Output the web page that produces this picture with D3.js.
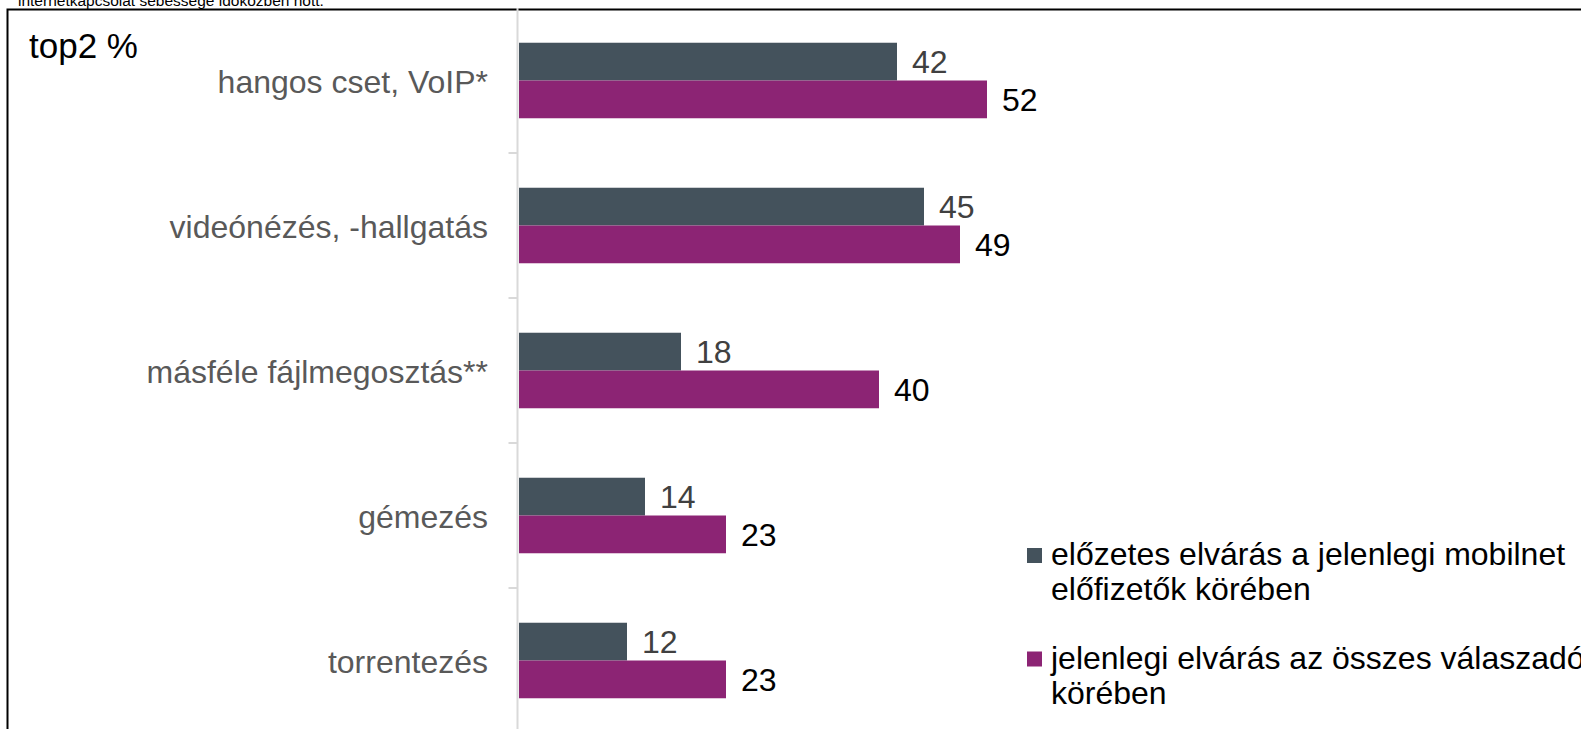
<!DOCTYPE html>
<html>
<head>
<meta charset="utf-8">
<script src="https://cdn.jsdelivr.net/npm/d3@7"></script>
<style>
  html, body { margin: 0; padding: 0; background: #fff; overflow: hidden; }
  svg { display: block; font-family: "Liberation Sans", Arial, sans-serif; }
</style>
</head>
<body>
<svg id="chart"></svg>
<script>
// data
const categories = ["hangos cset, VoIP*", "videónézés, -hallgatás", "másféle fájlmegosztás**", "gémezés", "torrentezés"];
const seriesNames = ["előzetes", "jelenlegi"];
const prevValues = [42, 45, 18, 14, 12];
const currValues = [52, 49, 40, 23, 23];
const legendLabels = [
	["előzetes elvárás a jelenlegi mobilnet", "előfizetők körében"],
	["jelenlegi elvárás az összes válaszadó", "körében"]
];
const colors = ["#44525c", "#8c2474"];
const labelColors = ["#404040", "#000000"];

const W = 1581, H = 729;

const svg = d3.select("#chart")
	.attr("width", W)
	.attr("height", H);

// clipped note above the frame
svg.append("text")
	.attr("x", 18)
	.attr("y", 6)
	.attr("font-size", 15.5)
	.attr("fill", "#000")
	.text("internetkapcsolat sebessége időközben nőtt.");

// frame (runs off the right and bottom)
svg.append("rect")
	.attr("x", 7.5)
	.attr("y", 9.5)
	.attr("width", 1700)
	.attr("height", 900)
	.attr("fill", "none")
	.attr("stroke", "#000")
	.attr("stroke-width", 2);

svg.append("text")
	.attr("x", 29)
	.attr("y", 58)
	.attr("font-size", 35)
	.attr("fill", "#000")
	.text("top2 %");

const x = d3.scaleLinear()
	.domain([0, 100])
	.range([519, 1419]);

const y = d3.scaleBand()
	.domain(categories)
	.range([8, 733])
	.padding(0);

const y1 = d3.scaleBand()
	.domain(seriesNames)
	.range([0, y.bandwidth()])
	.paddingOuter(0.92)
	.paddingInner(0);

// axis line and tick marks between categories
const axisX = 517.5;
svg.append("line")
	.attr("x1", axisX).attr("x2", axisX)
	.attr("y1", 8).attr("y2", H)
	.attr("stroke", "#d9d9d9")
	.attr("stroke-width", 2);

svg.append("g")
	.selectAll("line")
	.data(categories)
	.join("line")
	.attr("x1", axisX - 9)
	.attr("x2", axisX)
	.attr("y1", d => y(d) + y.bandwidth())
	.attr("y2", d => y(d) + y.bandwidth())
	.attr("stroke", "#d9d9d9")
	.attr("stroke-width", 2);

// category labels
svg.append("g")
	.selectAll("text")
	.data(categories)
	.join("text")
	.attr("x", 488)
	.attr("y", d => y(d) + y.bandwidth() / 2)
	.attr("dy", "0.38em")
	.attr("text-anchor", "end")
	.attr("font-size", 32)
	.attr("fill", "#595959")
	.text(d => d);

const rows = categories.map((c, i) => ({ cat: c, values: [prevValues[i], currValues[i]] }));

const groups = svg.append("g")
	.selectAll("g")
	.data(rows)
	.join("g")
	.attr("transform", d => `translate(0,${y(d.cat)})`);

groups.selectAll("rect")
	.data(d => d.values.map((v, j) => ({ s: seriesNames[j], v: v, j: j })))
	.join("rect")
	.attr("x", x(0))
	.attr("y", d => y1(d.s))
	.attr("width", d => x(d.v) - x(0))
	.attr("height", y1.bandwidth())
	.attr("fill", d => colors[d.j]);

groups.selectAll("text")
	.data(d => d.values.map((v, j) => ({ s: seriesNames[j], v: v, j: j })))
	.join("text")
	.attr("x", d => x(d.v) + 15)
	.attr("y", d => y1(d.s) + y1.bandwidth() / 2)
	.attr("dy", "0.37em")
	.attr("font-size", 32)
	.attr("fill", d => labelColors[d.j])
	.text(d => d.v);

// legend
const legend = svg.append("g")
	.selectAll("g")
	.data(legendLabels)
	.join("g")
	.attr("transform", (d, i) => `translate(1027,${548 + i * 103.5})`);

legend.append("rect")
	.attr("width", 15)
	.attr("height", 15)
	.attr("fill", (d, i) => colors[i]);

legend.append("text")
	.attr("font-size", 32)
	.attr("fill", "#000")
	.selectAll("tspan")
	.data(d => d)
	.join("tspan")
	.attr("x", 24)
	.attr("y", (d, k) => 17 + k * 35)
	.text(d => d);
</script>
</body>
</html>
